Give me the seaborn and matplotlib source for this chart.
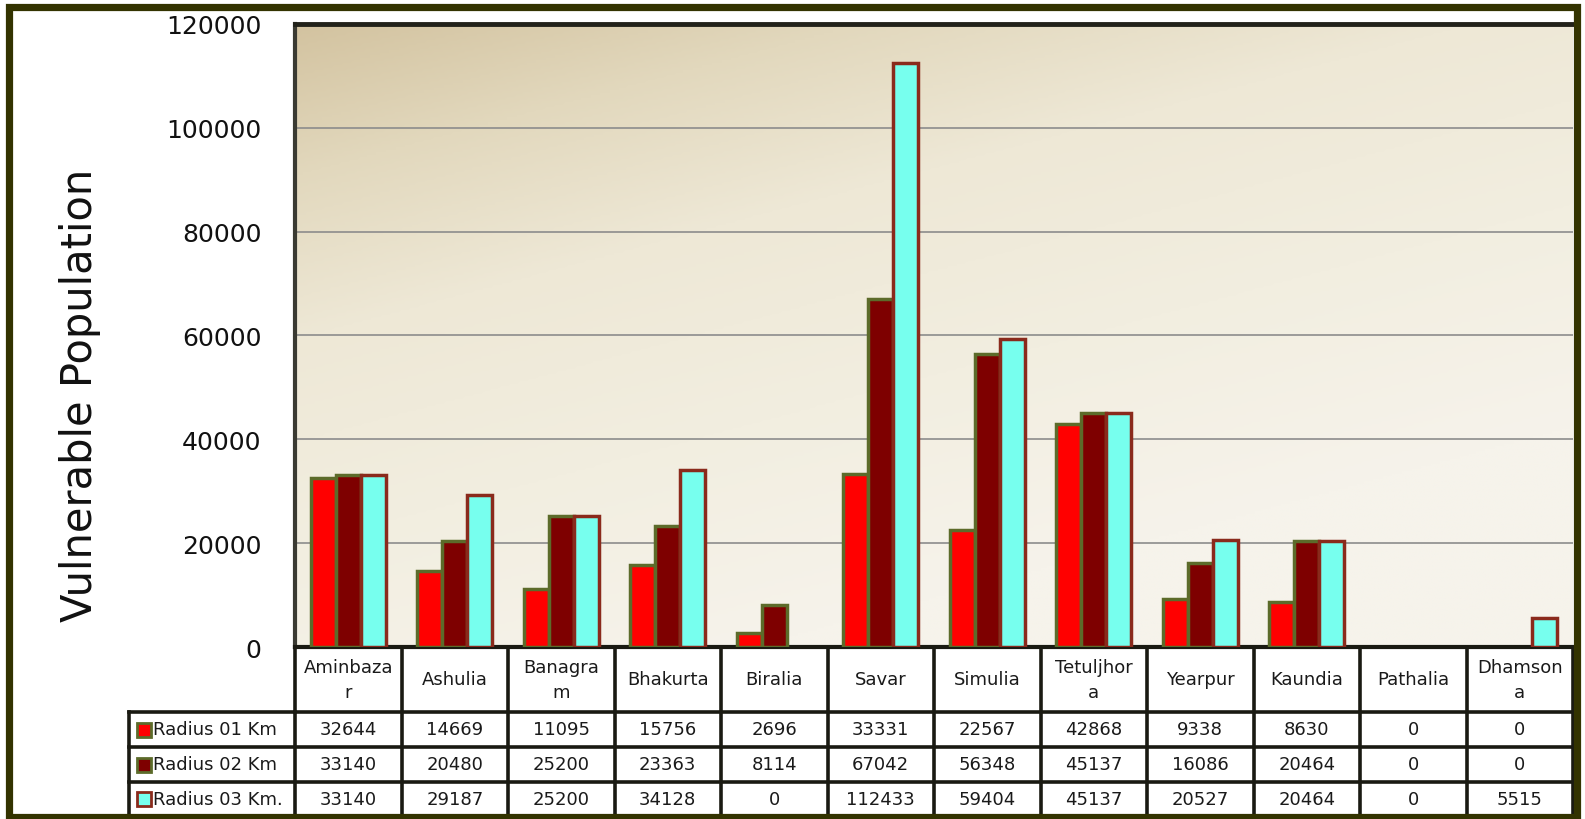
import numpy as np
import pandas as pd
import matplotlib
matplotlib.use("Agg")
import matplotlib.pyplot as plt
import matplotlib.transforms as mtransforms
from matplotlib.patches import Rectangle
from matplotlib.colors import LinearSegmentedColormap
import seaborn as sns

# ---------------- data ----------------
locations = ["Aminbazar", "Ashulia", "Banagram", "Bhakurta", "Biralia", "Savar",
             "Simulia", "Tetuljhora", "Yearpur", "Kaundia", "Pathalia", "Dhamsona"]
header_labels = ["Aminbaza\nr", "Ashulia", "Banagra\nm", "Bhakurta", "Biralia", "Savar",
                 "Simulia", "Tetuljhor\na", "Yearpur", "Kaundia", "Pathalia", "Dhamson\na"]
series_names = ["Radius 01 Km", "Radius 02 Km", "Radius 03 Km."]
radius_01 = [32644, 14669, 11095, 15756, 2696, 33331, 22567, 42868, 9338, 8630, 0, 0]
radius_02 = [33140, 20480, 25200, 23363, 8114, 67042, 56348, 45137, 16086, 20464, 0, 0]
radius_03 = [33140, 29187, 25200, 34128, 0, 112433, 59404, 45137, 20527, 20464, 0, 5515]
y_ticks = [0, 20000, 40000, 60000, 80000, 100000, 120000]
y_label = "Vulnerable Population"

fill_colors = ["#FF0000", "#7E0000", "#77FFEE"]
edge_colors = ["#5C6B2A", "#5C6B2A", "#8A2A1C"]

series_values = [radius_01, radius_02, radius_03]
df = pd.DataFrame({
    "Location": np.repeat([locations], 3, axis=0).ravel(),
    "Series": np.repeat(series_names, len(locations)),
    "Value": np.concatenate(series_values),
})

# ---------------- figure ----------------
W, H = 1585, 820
fig = plt.figure(figsize=(W / 100, H / 100), dpi=100, facecolor="white")

def fx(px):
    return px / W

def fy(py):
    return 1 - py / H

ax_left, ax_right, ax_top, ax_bottom = 295, 1573, 25, 648
ax = fig.add_axes([fx(ax_left), fy(ax_bottom), fx(ax_right - ax_left), (ax_bottom - ax_top) / H])

# background gradient (dark tan in the top-left corner, cream elsewhere)
gx, gy = np.meshgrid(np.linspace(0, 1, 400), np.linspace(0, 1, 250))
t = np.clip(0.55 * gx + 1.0 * gy, 0, 1.2) / 1.2  # gy=0 is top row (origin upper)
cmap = LinearSegmentedColormap.from_list(
    "bg", [(0.0, "#D3C3A0"), (0.2, "#E2D8BD"), (0.42, "#EEE8D6"), (0.7, "#F2EEE0"),
           (1.0, "#F6F3EB")])
ax.imshow(t, cmap=cmap, extent=[0, 1, 0, 1], transform=ax.transAxes,
          aspect="auto", origin="upper", zorder=0, interpolation="bilinear")

sns.barplot(data=df, x="Location", y="Value", hue="Series", order=locations,
            hue_order=series_names, palette=fill_colors, saturation=1,
            width=0.7, gap=0, legend=False, ax=ax, linewidth=2.5, zorder=3)

for cont, ec in zip(ax.containers, edge_colors):
    for p in cont.patches:
        p.set_edgecolor(ec)
        p.set_zorder(3)
        if p.get_height() == 0:
            p.set_linewidth(0)

ax.set_xlim(-0.5, len(locations) - 0.5)
ax.set_ylim(0, 120000)
ax.set_yticks(y_ticks)
ax.set_yticklabels([str(v) for v in y_ticks])
ax.yaxis.grid(True, color="#8C8C8C", linewidth=1.2)
ax.xaxis.grid(False)
ax.set_axisbelow(True)
for gl in ax.yaxis.get_gridlines():
    gl.set_zorder(1)
ax.tick_params(axis="y", length=0, pad=24, labelsize=18, labelcolor="#111111")
ax.tick_params(axis="x", bottom=False, labelbottom=False)
ax.set_xlabel("")
ax.set_ylabel(y_label, fontsize=30, color="#111111", rotation=90)
ax.yaxis.label.set_verticalalignment("center")
ax.yaxis.label.set_horizontalalignment("center")
ax.yaxis.set_label_coords((80 - ax_left) / (ax_right - ax_left),
                          (ax_bottom - 395) / (ax_bottom - ax_top))

ax.spines["top"].set_color("#22221A")
ax.spines["top"].set_linewidth(3.5)
ax.spines["left"].set_color("#3A3A32")
ax.spines["left"].set_linewidth(3)
ax.spines["bottom"].set_color("#1A1A12")
ax.spines["bottom"].set_linewidth(3)
ax.spines["right"].set_visible(False)

# ---------------- data table ----------------
tr = mtransforms.blended_transform_factory(ax.transData, fig.transFigure)
col_w_px = (ax_right - ax_left) / len(locations)
rowlab_left = -0.5 - (ax_left - 129) / col_w_px
header_top, header_bot = 648, 713
row_edges = [713, 748, 783, 817]
line_kw = dict(color="#1A1A12", linewidth=2.6, transform=tr, clip_on=False, zorder=5,
               solid_capstyle="projecting")

# horizontal lines
ax.plot([-0.5, len(locations) - 0.5], [fy(header_bot)] * 2, **line_kw)
for yy in row_edges[1:]:
    ax.plot([rowlab_left, len(locations) - 0.5], [fy(yy)] * 2, **line_kw)
ax.plot([rowlab_left, -0.5], [fy(row_edges[0])] * 2, **line_kw)
# vertical lines
for i in range(len(locations) + 1):
    ax.plot([i - 0.5, i - 0.5], [fy(header_top), fy(row_edges[-1])], **line_kw)
ax.plot([rowlab_left, rowlab_left], [fy(row_edges[0]), fy(row_edges[-1])], **line_kw)

txt_kw = dict(transform=tr, fontsize=13, color="#1A1A1A", clip_on=False, zorder=6)
for i, lab in enumerate(header_labels):
    ax.text(i, fy((header_top + header_bot) / 2), lab, ha="center", va="center",
            linespacing=1.45, **txt_kw)
for r, (name, vals) in enumerate(zip(series_names, series_values)):
    yc = fy((row_edges[r] + row_edges[r + 1]) / 2)
    for i, v in enumerate(vals):
        ax.text(i, yc, str(v), ha="center", va="center", **txt_kw)
    # legend key
    fig.patches.append(Rectangle((fx(137), yc - 7 / H), 14 / W, 14 / H,
                                 transform=fig.transFigure, facecolor=fill_colors[r],
                                 edgecolor=edge_colors[r], linewidth=2, zorder=6))
    fig.text(fx(153), yc, name, ha="left", va="center", fontsize=13, color="#1A1A1A")

# outer border
fig.patches.append(Rectangle((fx(8.5), fy(817.5)), fx(1576.5 - 8.5), (817.5 - 7.5) / H,
                             transform=fig.transFigure, fill=False,
                             edgecolor="#333300", linewidth=5.2, zorder=10))

fig.savefig("out.png", dpi=100, facecolor="white")
